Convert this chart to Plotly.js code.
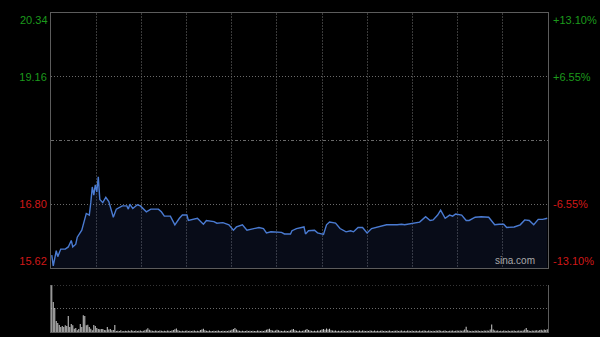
<!DOCTYPE html>
<html>
<head>
<meta charset="utf-8">
<script src="https://cdn.plot.ly/plotly-3.0.1.min.js"></script>
<style>
html,body{margin:0;padding:0;background:#000;}
#chart{width:600px;height:337px;}
</style>
</head>
<body>
<div id="chart"></div>
<script>
// ---- data (minutes from 09:30, HK session, 330 trading minutes) ----
const prevClose = 17.98;
const priceMinutes = [0,1,3,4,6,9,11,13,14,16,17,20,23,25,26,27,28,29,30,31,32,34,36,38,41,43,47,50,51,52,54,57,59,63,66,71,73,75,79,82,85,87,90,91,97,101,103,108,110,114,118,121,123,125,127,130,133,138,141,143,146,150,153,155,159,160,163,168,169,171,175,177,181,183,185,189,192,196,199,201,204,207,208,210,213,216,223,230,233,235,240,245,249,252,254,257,259,262,265,267,269,273,276,278,282,286,291,295,298,301,303,308,312,315,318,321,324,327,330];
const prices = [15.86,15.66,15.94,15.83,15.97,15.97,16.01,16.13,16.01,16.06,16.19,16.32,16.63,16.60,16.83,17.12,16.97,17.16,17.03,17.31,16.89,16.83,16.93,16.85,16.56,16.71,16.77,16.77,16.71,16.80,16.72,16.79,16.77,16.66,16.71,16.71,16.66,16.58,16.58,16.42,16.54,16.60,16.60,16.50,16.54,16.43,16.50,16.48,16.45,16.46,16.42,16.32,16.38,16.40,16.42,16.32,16.34,16.37,16.35,16.27,16.29,16.28,16.28,16.25,16.25,16.31,16.35,16.38,16.25,16.31,16.32,16.27,16.24,16.42,16.47,16.45,16.35,16.29,16.31,16.29,16.37,16.37,16.34,16.27,16.35,16.37,16.42,16.42,16.43,16.42,16.45,16.47,16.57,16.50,16.51,16.60,16.69,16.54,16.60,16.58,16.62,16.60,16.50,16.50,16.56,16.57,16.56,16.42,16.43,16.43,16.37,16.38,16.42,16.51,16.50,16.42,16.52,16.52,16.54];
// volume per minute (index = minute)
const volumes = [
47,30,24,11,9,7,5,6,5,6.7,6,16,5,8,6.7,3.3,4,1.7,3,8,5,16.7,16,6.7,7.3,5,3.3,1.7,7,6,4,3,2.7,3,3,2,1.7,5,2.5,3,1.7,2,7,
1,1.2,1,1.7,0.8,1,1.3,1,1.5,1,1.7,1.2,1,1.4,1,1.2,1.6,1,1.3,1.8,2.6,3.7,2.2,1.5,1.2,1,1.4,1.2,1,1.5,
1.2,1,1.3,1,1.5,1.2,1,1.4,2,2.8,3.5,1.8,1.2,1,1.3,1,1.2,1.5,1,1.3,1,1.2,1.6,1,1.3,1.1,1.9,2.5,3.2,1.7,
1.2,1,1.4,1.1,1,1.3,1,1.2,1.5,1,1.1,1.3,1,1.2,1,1.4,1.6,2.2,3,4,2.4,1.5,1.2,1,1.3,1,1.1,1.4,1,1.2,
1,1.3,1.1,1,1.5,1.2,1,1.3,1.1,1.6,2.2,2.8,3.2,2,1.5,1.2,1.6,2.2,1.8,1.3,1.1,1,1.4,1.2,1,1.3,1.6,2.4,3,1.8,
1.3,1.1,1.4,1,1.2,1.5,2.2,3,2,1.4,1.2,1,1.3,1.1,1.5,1.2,1.8,2.4,3.1,2.2,3.5,2.6,3.2,1.8,1.4,1.2,1.5,1.1,1.3,1,
1.2,1.4,1,1.3,1.1,1.6,1.2,1,1.4,1.2,1,1.3,1.5,1.1,1.4,1.2,1,1.3,1.1,1.5,1.2,1,1.4,1.1,1.3,1,1.2,1.5,1.1,1.3,
1,1.2,1.4,1.1,1,1.3,1.2,1.5,1,1.2,1.4,1.1,1.3,1,1.6,1.2,1,1.4,1.1,1.3,1.2,1,1.5,1.1,1.3,1.6,1.2,1,1.4,1.2,
1.1,1.3,1,1.5,1.2,1.7,1.3,1,1.2,1.4,1.1,1,1.3,1.2,1.5,1.1,1.3,1.6,1.2,1.4,1.2,1.6,2.4,5.3,1.8,1.3,1.1,1.2,1,1.4,
1.2,1.5,1.1,1.3,1,1.4,1.2,1.6,1.3,2.5,7.5,2.6,1.5,1.2,1.4,1.1,1.3,1,1.5,1.2,1.1,1.4,1,1.3,1.2,1.5,1.1,1.3,1.6,1.2,
1.3,1.6,2.4,4,1.9,1.3,1.1,1.4,1.2,1.5,1.7,1.3,1.9,2.2,1.6,2.4,2,2.8
];
const priceTicks = [15.62, 16.80, 19.16, 20.34];
const priceTickText = ['15.62', '16.80', '19.16', '20.34'];
const pctTicks = [-13.10, -6.55, 6.55, 13.10];
const pctTickText = ['-13.10%', '-6.55%', '+6.55%', '+13.10%'];
const timeGrid = [30,60,90,120,150,180,210,240,270,300];
const totalMinutes = 330;

// ---- build ----
const GREEN = '#1c9a1c', RED = '#d01818', NB = '\u00a0';
const FONT = 'Arial, "Liberation Sans", sans-serif';
function colorLabel(txt, v, ref, idx) {
  const c = v >= ref ? GREEN : RED;
  let s = '<span style="color:' + c + '">' + txt + '</span>';
  if (idx === 0) s = s + '<br>' + NB;          // bottom label sits above the frame line
  return s;
}
const yText = priceTickText.map((t, i) => colorLabel(t, priceTicks[i], prevClose, i));
const y2Text = pctTickText.map((t, i) => colorLabel(t, pctTicks[i], 0, i));
const pct = prices.map(p => (p / prevClose - 1) * 100);
const volX = volumes.map((v, i) => i);
const volMax = Math.max(...volumes);
const nTop = priceTicks.length - 1;

const frame = '#5c5c5c';
const traces = [
  {x: priceMinutes, y: prices, type: 'scatter', mode: 'lines', xaxis: 'x', yaxis: 'y',
   line: {color: '#4a7bd2', width: 1.4}, fill: 'tozeroy', fillcolor: 'rgba(40,60,120,0.2)', hoverinfo: 'skip'},
  {x: priceMinutes, y: pct, type: 'scatter', mode: 'lines', xaxis: 'x', yaxis: 'y2',
   line: {color: 'rgba(0,0,0,0)', width: 0}, hoverinfo: 'skip'},
  {x: volX, y: volumes, type: 'bar', xaxis: 'x2', yaxis: 'y3', width: 0.7,
   marker: {color: '#c4c4c4', line: {width: 0}}, hoverinfo: 'skip'}
];
const layout = {
  width: 600, height: 337,
  paper_bgcolor: '#000', plot_bgcolor: '#000',
  margin: {l: 51, r: 52, t: 13, b: 5},
  showlegend: false,
  font: {family: FONT, size: 11, color: '#ccc'},
  xaxis: {domain: [0, 1], range: [-0.5, totalMinutes + 0.5], anchor: 'y',
    tickvals: timeGrid, showticklabels: false, ticks: '',
    showgrid: true, gridcolor: '#3a3a3a', griddash: '2px,1px', gridwidth: 1,
    showline: true, mirror: true, linecolor: frame, linewidth: 1, zeroline: false},
  yaxis: {domain: [0.2006, 1], range: [priceTicks[0], priceTicks[nTop]], anchor: 'x',
    tickvals: priceTicks.slice(0, nTop), ticktext: yText.slice(0, nTop), ticks: '', ticklabelstandoff: 1,
    showgrid: true, gridcolor: '#6a6a6a', griddash: '1px,2px', gridwidth: 1,
    showline: true, mirror: true, linecolor: frame, linewidth: 1, zeroline: false,
    tickfont: {size: 11}},
  yaxis2: {overlaying: 'y', side: 'right', anchor: 'x', range: [pctTicks[0], pctTicks[nTop]],
    tickvals: pctTicks.slice(0, nTop), ticktext: y2Text.slice(0, nTop), ticks: '', showgrid: false, zeroline: false,
    showline: false, ticklabelstandoff: 4, tickfont: {size: 11}},
  xaxis2: {domain: [0, 1], range: [-0.5, totalMinutes + 0.5], anchor: 'y3',
    showticklabels: false, ticks: '', showgrid: false, zeroline: false,
    showline: true, linecolor: frame, linewidth: 1},
  yaxis3: {domain: [0, 0.1473], range: [0, volMax], anchor: 'x2',
    tickvals: [volMax / 2], showticklabels: false, ticks: '',
    showgrid: true, gridcolor: '#6a6a6a', griddash: '1px,2px', gridwidth: 1,
    showline: true, mirror: true, linecolor: frame, linewidth: 1, zeroline: false},
  shapes: [
    {type: 'line', xref: 'paper', x0: 0, x1: 1, yref: 'y', y0: prevClose, y1: prevClose,
     line: {color: '#6a6a6a', width: 1, dash: '3px,2px,1px,2px'}},
    {type: 'line', xref: 'paper', x0: 0, x1: 1, yref: 'y3', y0: volMax, y1: volMax,
     line: {color: '#6a6a6a', width: 1, dash: '1px,2px'}}
  ],
  annotations: [
    {text: 'sina.com', xref: 'paper', yref: 'paper', x: 0.978, y: 0.2226,
     xanchor: 'right', yanchor: 'middle', showarrow: false,
     font: {family: FONT, size: 10, color: '#a8a8a8'}},
    {text: priceTickText[nTop], xref: 'paper', yref: 'y', x: 0, y: priceTicks[nTop],
     xanchor: 'right', yanchor: 'top', xshift: -1, yshift: 1, showarrow: false,
     font: {family: FONT, size: 11, color: GREEN}},
    {text: pctTickText[nTop], xref: 'paper', yref: 'y2', x: 1, y: pctTicks[nTop],
     xanchor: 'left', yanchor: 'top', xshift: 3, yshift: 1, showarrow: false,
     font: {family: FONT, size: 11, color: GREEN}}
  ]
};
Plotly.newPlot('chart', traces, layout, {staticPlot: true, displayModeBar: false});
</script>
</body>
</html>
